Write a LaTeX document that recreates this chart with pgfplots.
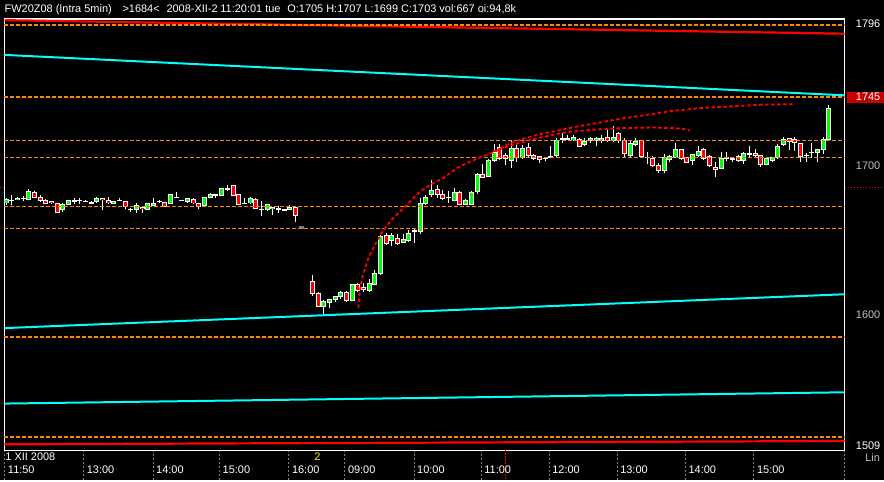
\documentclass[border=0pt]{standalone}
\usepackage{fontspec}
\setmainfont{Liberation Sans}
\usepackage{pgfplots}
\usepackage{pgfplotstable}
\pgfplotsset{compat=1.18}
\pgfdeclarelayer{bg}
\pgfsetlayers{bg,main}
\definecolor{up}{RGB}{0,255,0}
\definecolor{dn}{RGB}{255,0,0}
\definecolor{lvl}{RGB}{255,135,0}
\definecolor{trend}{RGB}{0,255,255}
\definecolor{lab}{RGB}{192,192,192}
\definecolor{tk}{RGB}{128,128,128}
\definecolor{boxred}{RGB}{200,0,0}
\newcommand\cf{\fontsize{11}{12}\selectfont}
\pgfplotsset{
  candle/.style={draw=none, forget plot, error bars/y dir=both, error bars/y explicit, error bars/error mark=none,
    error bars/error bar style={#1}},
}
% bar index, open, high, low, close, type (1 up, 2 down, 0 doji, 3 grey)
\pgfplotstableread{
i o h l c t
0 1673.6 1676.9 1672.4 1675.8 1
1 1675.3 1679.1 1672.4 1675.3 0
2 1675.8 1677.5 1675.3 1676.9 1
3 1676.9 1678.0 1674.7 1676.9 0
4 1675.8 1682.9 1675.3 1681.3 1
5 1680.9 1681.3 1676.9 1677.5 2
6 1677.5 1678.6 1674.2 1675.3 2
7 1675.3 1676.2 1672.7 1673.6 2
8 1674.7 1675.1 1673.1 1673.6 2
9 1673.1 1673.6 1667.3 1667.6 2
10 1669.1 1673.6 1667.3 1672.9 1
11 1672.9 1675.8 1672.4 1675.3 1
12 1675.1 1676.9 1672.7 1675.1 0
13 1675.3 1676.9 1673.1 1675.3 0
14 1674.9 1675.3 1674.4 1674.9 0
15 1673.8 1674.7 1673.6 1673.8 0
16 1674.7 1677.5 1673.8 1676.9 1
17 1676.9 1676.9 1669.1 1675.8 2
18 1675.1 1677.3 1673.1 1673.6 2
19 1673.6 1674.9 1673.1 1674.9 1
20 1675.3 1676.9 1674.7 1675.3 0
21 1674.7 1675.1 1669.6 1671.3 2
22 1669.6 1670.2 1667.3 1669.6 0
23 1669.1 1673.6 1666.9 1671.8 1
24 1670.9 1670.9 1666.9 1669.8 2
25 1669.1 1673.6 1669.1 1673.6 1
26 1672.0 1676.9 1671.3 1673.6 1
27 1674.7 1675.8 1673.6 1674.7 0
28 1674.0 1674.4 1671.3 1671.3 2
29 1673.1 1679.1 1672.7 1679.1 1
30 1677.5 1680.9 1676.9 1677.5 0
31 1675.3 1675.5 1675.1 1675.3 0
32 1674.7 1676.9 1673.6 1676.9 1
33 1675.8 1676.9 1672.9 1673.6 2
34 1673.1 1673.6 1669.6 1671.3 2
35 1671.8 1677.3 1671.8 1677.3 1
36 1677.5 1680.2 1676.9 1679.1 1
37 1679.1 1679.8 1676.9 1679.1 0
38 1678.6 1683.1 1678.6 1683.1 1
39 1683.1 1685.7 1681.3 1683.1 0
40 1685.3 1685.7 1678.0 1678.6 2
41 1679.1 1679.1 1672.9 1672.9 2
42 1673.6 1676.9 1672.9 1673.6 0
43 1673.6 1677.5 1672.9 1676.9 1
44 1675.8 1676.9 1669.6 1670.2 2
45 1669.6 1674.7 1664.7 1669.6 0
46 1669.6 1672.9 1668.0 1672.9 1
47 1669.8 1670.9 1665.4 1670.9 1
48 1669.8 1671.3 1666.9 1669.8 0
49 1669.1 1669.3 1668.9 1669.1 0
50 1669.6 1672.4 1669.1 1670.9 1
51 1670.9 1671.3 1660.7 1665.4 2
52 1656.5 1658.0 1656.5 1658.0 3
54 1621.5 1625.9 1611.5 1613.1 2
55 1613.1 1614.4 1604.2 1604.9 2
56 1604.9 1609.3 1599.3 1607.8 1
57 1607.5 1609.9 1603.8 1609.7 1
58 1609.7 1611.1 1607.8 1611.1 1
59 1611.1 1615.3 1609.7 1613.8 1
60 1613.8 1614.8 1607.8 1608.9 2
61 1608.9 1619.5 1608.6 1619.1 1
62 1619.1 1620.4 1614.4 1615.3 2
63 1617.5 1620.4 1614.4 1616.0 2
64 1615.3 1623.3 1614.4 1619.9 1
65 1619.1 1629.2 1618.8 1627.0 1
66 1626.6 1652.5 1625.5 1651.4 1
67 1651.8 1653.6 1645.9 1646.5 2
68 1648.7 1653.6 1644.7 1651.8 1
69 1649.8 1653.2 1645.9 1646.9 2
70 1647.6 1653.0 1646.9 1649.2 1
71 1648.7 1655.8 1647.6 1653.6 1
72 1655.1 1656.5 1646.9 1655.1 0
73 1654.7 1676.9 1653.2 1673.6 1
74 1673.1 1679.1 1672.4 1677.5 1
75 1679.1 1689.0 1677.9 1681.7 1
76 1682.9 1685.7 1676.9 1679.1 2
77 1679.5 1682.4 1675.3 1676.9 2
78 1677.5 1681.3 1673.6 1677.5 0
79 1675.3 1683.9 1674.6 1680.9 1
80 1680.9 1681.3 1672.0 1672.9 2
81 1672.4 1676.0 1672.0 1675.1 1
82 1672.4 1681.7 1672.0 1680.9 1
83 1681.3 1693.5 1679.5 1692.8 1
84 1692.8 1699.5 1690.6 1690.6 2
85 1691.2 1703.0 1690.6 1701.7 1
86 1701.7 1712.7 1701.2 1707.4 1
87 1710.5 1712.7 1702.3 1703.4 2
88 1705.0 1707.0 1699.0 1703.0 2
89 1701.7 1714.9 1696.8 1709.6 1
90 1709.6 1712.3 1701.2 1703.8 2
91 1703.8 1712.3 1703.0 1709.6 1
92 1710.8 1713.4 1704.5 1705.0 2
93 1705.0 1706.0 1702.3 1703.4 2
94 1704.5 1705.0 1700.5 1702.3 2
95 1703.4 1704.5 1701.7 1703.4 0
96 1704.5 1711.2 1703.4 1704.5 0
97 1705.0 1716.7 1704.5 1714.9 1
98 1716.3 1720.1 1713.4 1716.3 0
99 1716.3 1718.6 1715.6 1716.3 0
100 1715.6 1718.6 1715.1 1717.1 1
101 1715.6 1717.1 1710.8 1711.2 2
102 1712.7 1716.7 1711.2 1714.5 1
103 1715.1 1717.8 1713.4 1716.7 1
104 1715.1 1717.8 1711.2 1716.7 1
105 1715.1 1718.9 1713.4 1716.7 1
106 1717.4 1722.2 1714.4 1715.1 2
107 1715.1 1724.5 1714.4 1717.4 1
108 1719.6 1721.1 1713.4 1715.1 2
109 1714.9 1716.7 1703.4 1706.8 2
110 1705.0 1714.9 1703.4 1713.4 1
111 1712.7 1716.7 1711.2 1714.5 1
112 1714.9 1715.6 1703.4 1704.5 2
113 1704.1 1707.4 1699.5 1704.1 0
114 1703.4 1705.0 1697.5 1698.5 2
115 1698.5 1700.1 1693.5 1695.0 2
116 1695.0 1706.1 1693.5 1704.1 1
117 1702.8 1705.2 1701.2 1704.5 1
118 1704.1 1713.4 1704.1 1709.4 1
119 1709.0 1709.4 1702.3 1703.4 2
120 1703.8 1704.5 1700.8 1700.8 2
121 1701.7 1706.1 1699.0 1705.6 1
122 1705.2 1711.6 1704.5 1707.8 1
123 1709.0 1710.1 1702.3 1703.4 2
124 1704.5 1705.6 1697.4 1698.5 2
125 1697.5 1700.8 1690.6 1695.7 2
126 1696.8 1707.4 1696.3 1703.0 1
127 1703.8 1707.4 1701.7 1703.8 0
128 1703.0 1704.5 1701.0 1703.0 0
129 1704.5 1705.6 1701.0 1701.7 2
130 1701.7 1707.4 1699.5 1706.8 1
131 1706.3 1711.6 1704.1 1706.3 0
132 1706.8 1709.6 1704.1 1705.2 2
133 1705.2 1705.6 1697.5 1699.5 2
134 1699.5 1703.4 1698.8 1703.0 1
135 1701.6 1704.5 1700.8 1703.9 1
136 1703.8 1712.9 1702.8 1711.2 1
137 1712.7 1717.4 1711.2 1715.6 1
138 1716.7 1716.7 1709.0 1714.4 2
139 1715.6 1717.8 1708.5 1713.8 2
140 1712.9 1713.4 1701.2 1704.5 2
141 1705.2 1706.8 1701.2 1705.2 0
142 1707.4 1713.8 1704.5 1707.4 0
143 1707.4 1709.4 1701.2 1709.4 1
144 1709.0 1717.4 1706.3 1715.6 1
145 1715.6 1738.9 1715.1 1736.7 1
}\candles

\begin{document}
\begin{tikzpicture}[x=1bp,y=1bp]
\begin{axis}[
  name=ax,
  scale only axis, width=841bp, height=432bp,
  xmin=-0.27, xmax=147.77, ymin=1509, ymax=1796,
  axis line style={white, line width=1.2bp},
  xtick={-0.27,13.69,25.91,37.63,49.84,59.70,71.90,83.75,95.72,107.69,119.73,131.80,147.77},
  xticklabels={},
  xticklabel style={inner sep=0pt},
  xtick pos=bottom, xtick align=outside, major tick length=30bp,
  x tick style={tk, line width=1bp, dash pattern=on 2bp off 2bp},
  ytick=\empty,
  clip=false,
]
% wicks
\addplot[candle={draw=white, line width=1bp}]
  table[x=i, y=l, y error plus expr=\thisrow{h}-\thisrow{l}, y error minus expr=0] {\candles};
% body outlines
\addplot[restrict expr to domain={\thisrow{t}}{0:2}, candle={draw=white, line width=5bp}]
  table[x=i, y expr=(\thisrow{o}+\thisrow{c})/2, y error expr=abs(\thisrow{c}-\thisrow{o})/2+0.33] {\candles};
\addplot[restrict expr to domain={\thisrow{t}}{3:3}, candle={draw=tk, line width=5bp}]
  table[x=i, y expr=(\thisrow{o}+\thisrow{c})/2, y error expr=abs(\thisrow{c}-\thisrow{o})/2+0.33] {\candles};
% body fills
\addplot[restrict expr to domain={\thisrow{t}}{1:1}, candle={draw=up, line width=3bp}]
  table[x=i, y expr=(\thisrow{o}+\thisrow{c})/2, y error expr={max(abs(\thisrow{c}-\thisrow{o})/2-0.33,0)}] {\candles};
\addplot[restrict expr to domain={\thisrow{t}}{2:2}, candle={draw=dn, line width=3bp}]
  table[x=i, y expr=(\thisrow{o}+\thisrow{c})/2, y error expr={max(abs(\thisrow{c}-\thisrow{o})/2-0.33,0)}] {\candles};

% channel lines
\addplot[trend, line width=2bp] coordinates {(-0.27,1772.1) (147.77,1745.2)};
\addplot[trend, line width=2bp] coordinates {(-0.27,1590.4) (147.77,1612.9)};
\addplot[trend, line width=2bp] coordinates {(-0.27,1540.2) (147.77,1547.7)};
\addplot[dn, line width=2.2bp] coordinates {(-0.27,1795.2) (147.77,1786.2)};
\addplot[dn, line width=2.2bp] coordinates {(-0.27,1513.1) (147.77,1515.3)};
% horizontal levels
\pgfplotsinvokeforeach{1791.8,1744.3,1715.1,1703.8,1671.3,1656.7,1584.3,1517.8}{
  \addplot[lvl, line width=1.7bp, dash pattern=on 4bp off 2bp] coordinates {(-0.27,#1) (147.77,#1)};
}
% arcs
\addplot[dn, line width=1.8bp, dash pattern=on 3.5bp off 2.5bp] coordinates {
(62.10,1603.8) (62.22,1611.5) (62.69,1622.6) (63.28,1630.4) (63.86,1637.0)
(64.46,1641.4) (65.34,1648.0) (66.50,1655.5) (67.98,1662.5) (69.74,1669.1)
(71.20,1674.6) (72.96,1681.3) (75.30,1686.8) (77.06,1690.2) (79.42,1696.8)
(81.18,1700.1) (82.94,1703.0) (84.70,1705.6) (86.46,1708.3) (88.22,1712.3)
(90.56,1715.6) (93.50,1718.9) (96.42,1721.1) (99.94,1724.0) (104.06,1726.7)
(108.16,1729.6) (112.86,1732.2) (117.54,1734.9) (122.24,1736.7) (126.94,1737.7)
(130.46,1738.4) (133.99,1739.1) (138.97,1739.3)};
\addplot[dn, line width=1.8bp, dash pattern=on 3.5bp off 2.5bp] coordinates {
(85.86,1707.8) (88.22,1711.0) (90.56,1713.6) (93.50,1716.6) (96.37,1718.9)
(98.78,1720.7) (102.88,1722.2) (108.16,1723.4) (114.02,1723.8) (117.54,1723.4)
(119.30,1722.9) (120.48,1721.8)};
% cursor
\draw[dn, line width=1bp, dash pattern=on 1.5bp off 1.5bp] (axis cs:88,1509) -- ([yshift=-30bp]axis cs:88,1509);
\draw[dn, line width=1bp, dash pattern=on 1.5bp off 1.5bp] (axis cs:147.77,1684) -- ([xshift=39bp]axis cs:147.77,1684);
\draw[dn, line width=1bp, dash pattern=on 1.5bp off 1.5bp] (axis cs:-0.27,1684) -- ([xshift=-4bp]axis cs:-0.27,1684);
\end{axis}

\begin{scope}[shift={(ax.south west)}]
\begin{pgfonlayer}{bg}
\fill[black] (-4,-30) rectangle (880,451);
\end{pgfonlayer}
% header
\begin{scope}[every node/.style={inner sep=0pt, anchor=base west, text=white, font=\cf}]
\node at (0,438.7) {FW20Z08 (Intra 5min)};
\node at (118,438.7) {>1684<};
\node at (162,438.7) {2008-XII-2};
\node at (216,438.7) {11:20:01 tue};
\node at (283,438.7) {O:1705 H:1707 L:1699 C:1703 vol:667 oi:94,8k};
% time axis
\node at (0.7,-10) {1 XII 2008};
\node[text=yellow] at (310,-10) {2};
\node at (3.3,-23.3) {11:50};
\node at (82.3,-23.3) {13:00};
\node at (151.7,-23.3) {14:00};
\node at (218.3,-23.3) {15:00};
\node at (287.7,-23.3) {16:00};
\node at (343.7,-23.3) {09:00};
\node at (413,-23.3) {10:00};
\node at (480.3,-23.3) {11:00};
\node at (548.3,-23.3) {12:00};
\node at (616.3,-23.3) {13:00};
\node at (684.7,-23.3) {14:00};
\node at (753.3,-23.3) {15:00};
\end{scope}
% price axis
\fill[boxred] (843.7,348.3) rectangle (880,359.3);
\begin{scope}[every node/.style={inner sep=0pt, anchor=base east, font=\cf}]
\node[text=white] at (877,423) {1796};
\node[text=white] at (877,350) {1745};
\node[text=lab] at (877,281.7) {1700};
\node[text=lab] at (877,132) {1600};
\node[text=white] at (877,1) {1509};
\node[text=lab] at (876.7,-11.3) {Lin};
\end{scope}
\useasboundingbox (-4,-30) rectangle (880,451);
\end{scope}
\end{tikzpicture}
\end{document}
